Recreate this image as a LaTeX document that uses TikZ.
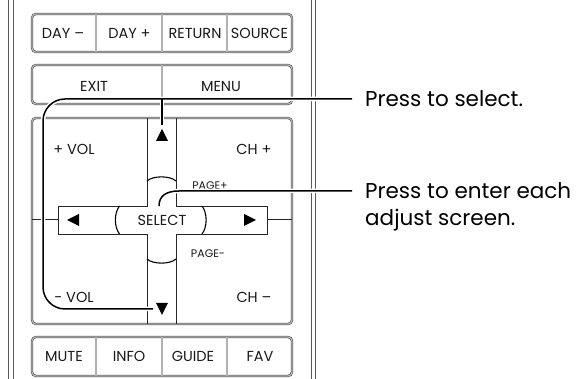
\documentclass[tikz,border=0pt]{standalone}
\usepackage{fontspec}
\setmainfont{Poppins}
\begin{document}
\begin{tikzpicture}[x=1pt,y=-1pt,
  panel/.style={draw=black!70, line width=0.5pt, double=black!30, double distance=1.3pt, rounded corners=4pt},
  divider/.style={draw=black!70, line width=0.5pt, double=black!30, double distance=1.3pt},
  rail/.style={draw=black!65, line width=0.7pt},
  pad/.style={draw=black!85, line width=0.7pt},
  keyarc/.style={draw=black, line width=1.1pt},
  tri/.style={fill=black},
  lab/.style={font=\fontsize{14.5}{16}\selectfont, inner sep=0pt, text=black!90},
  small/.style={font=\fontsize{11}{12}\selectfont, inner sep=0pt, text=black!90},
  callout/.style={font=\fontsize{21.5}{24}\selectfont, inner sep=0pt, anchor=base west, text=black},
  halo/.style={draw=white, line width=4.5pt},
  lead/.style={draw=black, line width=1.5pt}]
\useasboundingbox (0,0) rectangle (582,379);
% rails
\draw[rail] (8.5,0) -- (8.5,379);
\draw[rail] (13,0) -- (13,379);
\draw[rail] (311,0) -- (311,379);
\draw[rail] (315.5,0) -- (315.5,379);
% row 1
\draw[panel] (32,14) rectangle (292,52);
\draw[divider] (96,14) -- (96,52);
\draw[divider] (162,14) -- (162,52);
\draw[divider] (227,14) -- (227,52);
\node[lab] (dayminus) at (63,33) {DAY –};
\node[lab] (dayplus) at (129.5,33) {DAY +};
\node[lab] (return) at (195,33) {RETURN};
\node[lab] (source) at (259.5,33) {SOURCE};
% row 2
\draw[panel] (32,65) rectangle (292,104);
\draw[divider] (162,65) -- (162,104);
\node[lab] (exit) at (94,86) {EXIT};
\node[lab] (menu) at (221,86) {MENU};
% pad
\draw[panel] (32,118) rectangle (292,324);
\draw[pad] (147,118) -- (147,206) -- (58,206) -- (58,234) -- (147,234) -- (147,324);
\draw[pad] (176,118) -- (176,206) -- (267,206) -- (267,234) -- (176,234) -- (176,324);
\draw[pad] (32,219) -- (58,219);
\draw[pad] (267,219) -- (292,219);
\draw[keyarc] (147,181) .. controls (153,175.5) and (170,175.5) .. (176,181);
\draw[keyarc] (147,259) .. controls (153,264.5) and (170,264.5) .. (176,259);
\draw[keyarc] (119.5,206) .. controls (114,213) and (114,227) .. (119.5,234);
\draw[keyarc] (202,206) .. controls (207.5,213) and (207.5,227) .. (202,234);
\fill[tri] (156,141) -- (168,141) -- (162,129) -- cycle;
\fill[tri] (156,303) -- (168,303) -- (162,315) -- cycle;
\fill[tri] (79,214) -- (79,226) -- (67,220) -- cycle;
\fill[tri] (244,214) -- (244,226) -- (256,220) -- cycle;
\node[lab] (select) at (162,220) {SELECT};
\node[lab] (volplus) at (74,149) {+ VOL};
\node[lab] (chplus) at (254,149) {CH +};
\node[lab] (volminus) at (74,297) {- VOL};
\node[lab] (chminus) at (254,297) {CH –};
\node[small] (pageplus) at (210,186) {PAGE+};
\node[small] (pageminus) at (208,254) {PAGE-};
% row 4
\draw[panel] (32,337) rectangle (292,376);
\draw[divider] (96,337) -- (96,376);
\draw[divider] (162,337) -- (162,376);
\draw[divider] (227,337) -- (227,376);
\node[lab] (mute) at (64,356) {MUTE};
\node[lab] (info) at (129,356) {INFO};
\node[lab] (guide) at (193,356) {GUIDE};
\node[lab] (fav) at (260,356) {FAV};
% callout texts
\node[callout] (t1) at (365,106.5) {Press to select.};
\node[callout] (t2) at (365,199) {Press to enter each};
\node[callout] (t3) at (365,226) {adjust screen.};
\coordinate (e1) at (352,99);
\coordinate (e2) at (352,191);
\coordinate (s1) at (153,309);
\coordinate (tick) at (162,125);
\coordinate (s2) at (159,206);
% callout leads
\draw[halo,rounded corners=22pt] (s1) -- (43,309) -- (43,99) -- (e1);
\draw[halo] (162,99) -- (tick);
\draw[halo] (s2) .. controls (159,196) and (166,191) .. (179,191) -- (e2);
\draw[lead,rounded corners=22pt] (s1) -- (43,309) -- (43,99) -- (e1);
\draw[lead] (162,99) -- (tick);
\draw[lead] (s2) .. controls (159,196) and (166,191) .. (179,191) -- (e2);
\end{tikzpicture}
\end{document}
